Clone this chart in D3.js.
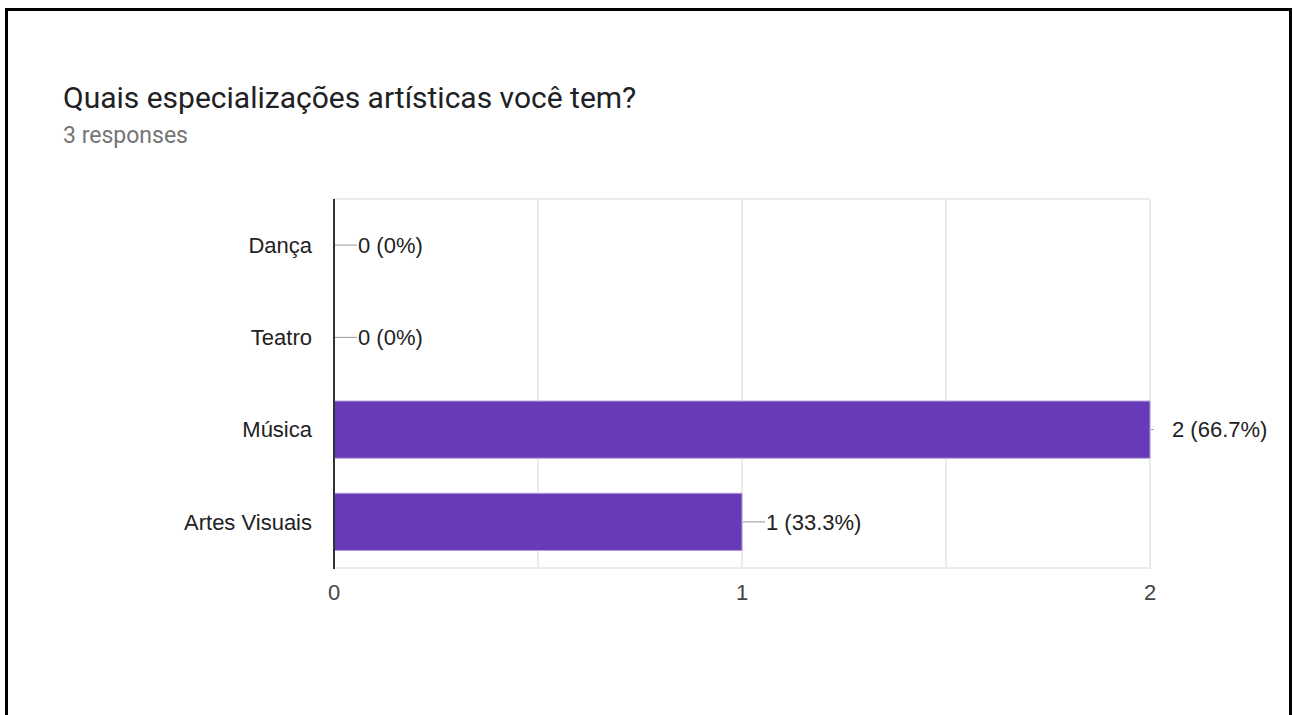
<!DOCTYPE html>
<html>
<head>
<meta charset="utf-8">
<script src="https://cdn.jsdelivr.net/npm/d3@7"></script>
<style>
  html, body { margin: 0; padding: 0; background: #fff; }
  svg { display: block; }
</style>
</head>
<body>
<svg id="chart" width="1293" height="715"></svg>
<script>
// Survey answers
const categories = ["Dança", "Teatro", "Música", "Artes Visuais"];
const counts = [0, 0, 2, 1];
const valueLabels = ["0 (0%)", "0 (0%)", "2 (66.7%)", "1 (33.3%)"];
const tickValues = [0, 1, 2];
const title = "Quais especializações artísticas você tem?";
const subtitle = "3 responses";

const svg = d3.select("#chart");

// Card frame (open at the bottom)
svg.append("path")
  .attr("d", "M6.5,715 V9.5 H1290.5 V715")
  .attr("fill", "none")
  .attr("stroke", "#000")
  .attr("stroke-width", 3);

svg.append("text")
  .attr("x", 63).attr("y", 108)
  .attr("font-family", "Roboto, sans-serif")
  .attr("font-size", 30)
  .attr("fill", "#202124")
  .text(title);

svg.append("text")
  .attr("x", 63).attr("y", 143)
  .attr("font-family", "Roboto, sans-serif")
  .attr("font-size", 23)
  .attr("fill", "#757575")
  .text(subtitle);

const plot = { left: 334, right: 1150, top: 199, bottom: 568 };

const x = d3.scaleLinear().domain([0, 2]).range([plot.left, plot.right]);
const y = d3.scaleBand().domain(categories)
  .range([plot.top, plot.bottom])
  .paddingInner(0.38).paddingOuter(0.19);

const font = "Arial, 'Liberation Sans', sans-serif";
const fontSize = 22;

// Gridlines
const grid = svg.append("g");
grid.selectAll("line.v")
  .data(d3.range(0.5, 2.01, 0.5))
  .join("line")
  .attr("x1", d => x(d)).attr("x2", d => x(d))
  .attr("y1", plot.top).attr("y2", plot.bottom)
  .attr("stroke", "#ebebeb").attr("stroke-width", 2);
grid.append("line")
  .attr("x1", plot.left).attr("x2", plot.right)
  .attr("y1", plot.top).attr("y2", plot.top)
  .attr("stroke", "#ebebeb").attr("stroke-width", 2);
grid.append("line")
  .attr("x1", plot.left).attr("x2", plot.right + 1)
  .attr("y1", plot.bottom).attr("y2", plot.bottom)
  .attr("stroke", "#ebebeb").attr("stroke-width", 2);

// Bars
svg.append("g").selectAll("rect")
  .data(categories)
  .join("rect")
  .attr("x", x(0))
  .attr("y", d => y(d))
  .attr("width", (d, i) => x(counts[i]) - x(0))
  .attr("height", y.bandwidth())
  .attr("fill", "#673ab7")
  .attr("stroke", "#b39ddb")
  .attr("stroke-width", 1);

// Baseline axis
svg.append("line")
  .attr("x1", x(0)).attr("x2", x(0))
  .attr("y1", plot.top).attr("y2", plot.bottom + 1)
  .attr("stroke", "#333").attr("stroke-width", 2);

// Category labels
svg.append("g").selectAll("text")
  .data(categories)
  .join("text")
  .attr("x", 312)
  .attr("y", d => y(d) + y.bandwidth() / 2)
  .attr("dy", "0.35em")
  .attr("text-anchor", "end")
  .attr("font-family", font)
  .attr("font-size", fontSize)
  .attr("fill", "#222")
  .text(d => d);

// Value labels with leader lines
const labels = svg.append("g");
categories.forEach((c, i) => {
  const x0 = x(counts[i]) + 1;
  const atEdge = counts[i] === d3.max(counts);
  const lineLen = atEdge ? 3 : 22;
  const textX = atEdge ? x0 + 21 : x0 + 23;
  const cy = y(c) + y.bandwidth() / 2;
  labels.append("line")
    .attr("x1", x0).attr("x2", x0 + lineLen)
    .attr("y1", cy).attr("y2", cy)
    .attr("stroke", "#999").attr("stroke-width", 1);
  labels.append("text")
    .attr("x", textX)
    .attr("y", cy)
    .attr("dy", "0.35em")
    .attr("font-family", font)
    .attr("font-size", fontSize)
    .attr("fill", "#222")
    .text(valueLabels[i]);
});

// X tick labels
svg.append("g").selectAll("text")
  .data(tickValues)
  .join("text")
  .attr("x", d => x(d))
  .attr("y", 592)
  .attr("dy", "0.35em")
  .attr("text-anchor", "middle")
  .attr("font-family", font)
  .attr("font-size", fontSize)
  .attr("fill", "#444")
  .text(d => d);
</script>
</body>
</html>
